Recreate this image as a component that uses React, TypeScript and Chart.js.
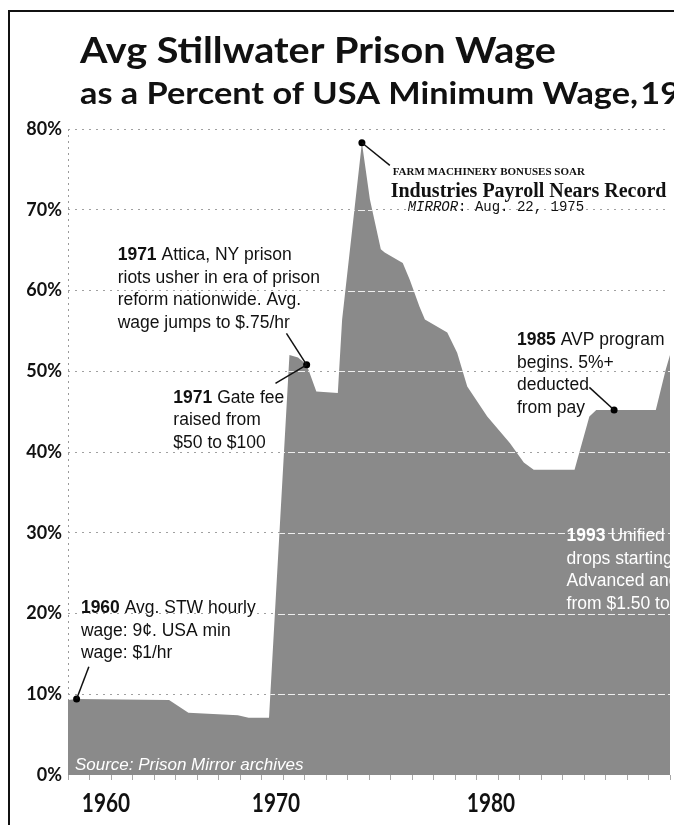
import React, { useEffect, useRef } from 'react';
import { Chart, registerables } from 'chart.js';

Chart.register(...registerables);

// ---- data ----
const areaYears = [
  1960, 1960.4, 1964.7, 1965.6, 1967.9, 1968.4, 1969.35, 1970.3, 1970.7, 1971.1,
  1971.55, 1972.55, 1972.75, 1973.67, 1974.04, 1974.55, 1974.73, 1975.57, 1975.9,
  1976.35, 1976.6, 1977.64, 1978.1, 1978.57, 1979.5, 1980.55, 1981.2, 1981.66,
  1983.56, 1984.25, 1984.57, 1985.4, 1987.34, 1987.8, 1988,
];
const areaValues = [
  9.3, 9.4, 9.3, 7.7, 7.4, 7.1, 7.1, 52.0, 51.7, 50.8,
  47.5, 47.3, 56.4, 78.3, 71.3, 65.1, 64.7, 63.4, 61.3,
  58.0, 56.4, 54.8, 52.3, 48.1, 44.4, 41.1, 38.7, 37.8,
  37.8, 44.4, 45.2, 45.2, 45.2, 50.2, 52.0,
];

const dotYears = [1960.4, 1971.1, 1973.67, 1985.4];
const dotValues = [9.4, 50.8, 78.3, 45.2];

const leaderDot = [0, 1, 1, 2, 3];
const leaderEndYears = [1960.97, 1970.16, 1969.65, 1974.97, 1984.25];
const leaderEndValues = [13.4, 54.7, 48.5, 75.5, 48.0];

const yTickValues = [0, 10, 20, 30, 40, 50, 60, 70, 80];
const xTickYears = [
  1960, 1961, 1962, 1963, 1964, 1965, 1966, 1967, 1968, 1969, 1970, 1971, 1972, 1973,
  1974, 1975, 1976, 1977, 1978, 1979, 1980, 1981, 1982, 1983, 1984, 1985, 1986, 1987, 1988,
];
const xLabelYears = [1960, 1970, 1980];

const titleText = 'Avg Stillwater Prison Wage';
const subtitleLead = 'as a Percent of USA Minimum Wage,';
const subtitleTail = '1960\u20131990';

const atticaNote = ['1971 Attica, NY prison', 'riots usher in era of prison', 'reform nationwide. Avg.', 'wage jumps to $.75/hr'];
const gateNote = ['1971 Gate fee', 'raised from', '$50 to $100'];
const avpNote = ['1985 AVP program', 'begins. 5%+', 'deducted', 'from pay'];
const startNote = ['1960 Avg. STW hourly', 'wage: 9\u00a2. USA min', 'wage: $1/hr'];
const unifiedNote = ['1993 Unified', 'drops starting', 'Advanced and', 'from $1.50 to'];
const noteYears = [1962.31, 1964.9, 1980.88, 1960.6, 1983.19];
const noteValues = [63.8, 46.1, 53.25, 20.06, 29.0];

const headlineKicker = 'FARM MACHINERY BONUSES SOAR';
const headlineMain = 'Industries Payroll Nears Record';
const headlinePaper = 'MIRROR';
const headlineDate = ': Aug. 22, 1975';
const headlineYears = [1975.1, 1975.01, 1975.8];
const headlineValues = [74.3, 71.58, 69.85];

const sourceText = 'Source: Prison Mirror archives';
const sourceYear = 1960.32;
const sourceValue = 0.62;

// ---- styles ----
const SANS = '"Liberation Sans", Arial, sans-serif';
const HEAD = 'Lato, "Open Sans", sans-serif';
const SERIF = '"Liberation Serif", "Times New Roman", serif';
const MONO = '"Liberation Mono", "Courier New", monospace';

function drawNote(ctx: CanvasRenderingContext2D, x: number, y: number, lines: string[], color: string) {
  const size = 17.5;
  const lh = 22.7;
  ctx.fillStyle = color;
  ctx.textAlign = 'left';
  ctx.textBaseline = 'alphabetic';
  lines.forEach((line, i) => {
    const cy = y + i * lh;
    const m = line.match(/^(\d{4})(.*)$/);
    if (m) {
      ctx.font = `bold ${size}px ${SANS}`;
      ctx.fillText(m[1], x, cy);
      const w = ctx.measureText(m[1]).width;
      ctx.font = `${size}px ${SANS}`;
      ctx.fillText(m[2], x + w, cy);
    } else {
      ctx.font = `${size}px ${SANS}`;
      ctx.fillText(line, x, cy);
    }
  });
}

function drawStretched(ctx: CanvasRenderingContext2D, text: string, x: number, y: number, width: number, tail?: string) {
  const w = ctx.measureText(text).width;
  const sx = width / w;
  ctx.save();
  ctx.translate(x, y);
  ctx.scale(sx, 1);
  ctx.fillText(text, 0, 0);
  if (tail) ctx.fillText(tail, w + 2, 0);
  ctx.restore();
}

const decor = {
  id: 'decor',
  beforeDraw(chart: any) {
    const ctx = chart.ctx as CanvasRenderingContext2D;
    ctx.save();
    ctx.fillStyle = '#fff';
    ctx.fillRect(0, 0, chart.width, chart.height);
    ctx.strokeStyle = '#111';
    ctx.lineWidth = 2;
    ctx.beginPath();
    ctx.moveTo(9, chart.height);
    ctx.lineTo(9, 11);
    ctx.lineTo(chart.width, 11);
    ctx.stroke();
    ctx.fillStyle = '#111';
    ctx.textAlign = 'left';
    ctx.textBaseline = 'alphabetic';
    ctx.font = `bold 36px ${HEAD}`;
    drawStretched(ctx, titleText, 80, 63, 476);
    ctx.font = `bold 30px ${HEAD}`;
    drawStretched(ctx, subtitleLead, 80, 104, 558, subtitleTail);
    ctx.restore();
  },
  afterDatasetsDraw(chart: any) {
    const ctx = chart.ctx as CanvasRenderingContext2D;
    const xs = chart.scales.x;
    const ys = chart.scales.y;
    const area = chart.chartArea;
    const px = (v: number) => xs.getPixelForValue(v);
    const py = (v: number) => ys.getPixelForValue(v);

    // white grid lines through the filled area
    const meta = chart.getDatasetMeta(0);
    const pts = meta.data;
    ctx.save();
    ctx.beginPath();
    ctx.moveTo(pts[0].x, py(0));
    pts.forEach((p: any) => ctx.lineTo(p.x, p.y));
    ctx.lineTo(pts[pts.length - 1].x, py(0));
    ctx.closePath();
    ctx.clip();
    ctx.strokeStyle = 'rgba(255,255,255,0.85)';
    ctx.lineWidth = 1;
    ctx.setLineDash([7, 3]);
    yTickValues.filter((v) => v > 0).forEach((v) => {
      const y = Math.round(py(v)) + 0.5;
      ctx.beginPath();
      ctx.moveTo(area.left, y);
      ctx.lineTo(area.right, y);
      ctx.stroke();
    });
    ctx.restore();

    // leader lines
    ctx.save();
    ctx.strokeStyle = '#111';
    ctx.lineWidth = 1.5;
    leaderDot.forEach((d, i) => {
      ctx.beginPath();
      ctx.moveTo(px(dotYears[d]), py(dotValues[d]));
      ctx.lineTo(px(leaderEndYears[i]), py(leaderEndValues[i]));
      ctx.stroke();
    });
    ctx.restore();

    // notes
    ctx.save();
    const notes = [atticaNote, gateNote, avpNote, startNote, unifiedNote];
    notes.forEach((lines, i) => {
      drawNote(ctx, px(noteYears[i]), py(noteValues[i]), lines, i === 4 ? '#fff' : '#111');
    });

    // newspaper headline
    ctx.fillStyle = '#111';
    ctx.textAlign = 'left';
    ctx.font = `bold 11px ${SERIF}`;
    ctx.fillText(headlineKicker, px(headlineYears[0]), py(headlineValues[0]));
    ctx.font = `bold 20px ${SERIF}`;
    ctx.fillText(headlineMain, px(headlineYears[1]), py(headlineValues[1]));
    ctx.font = `italic 14px ${MONO}`;
    const hx = px(headlineYears[2]);
    const hy = py(headlineValues[2]);
    ctx.fillText(headlinePaper, hx, hy);
    const pw = ctx.measureText(headlinePaper).width;
    ctx.font = `14px ${MONO}`;
    ctx.fillText(headlineDate, hx + pw, hy);

    // source
    ctx.fillStyle = '#fff';
    ctx.font = `italic 17px ${SANS}`;
    ctx.fillText(sourceText, px(sourceYear), py(sourceValue));

    // x labels
    ctx.fillStyle = '#111';
    ctx.textAlign = 'center';
    ctx.font = `bold 26px ${HEAD}`;
    xLabelYears.forEach((yr) => {
      let x = px(yr) - 7;
      if (x < area.left + 38) x = area.left + 38;
      ctx.save();
      ctx.translate(x, 812);
      ctx.scale(0.8, 1);
      ctx.fillText(String(yr), 0, 0);
      ctx.restore();
    });
    ctx.restore();
  },
};

export default function App() {
  const ref = useRef<HTMLCanvasElement | null>(null);
  useEffect(() => {
    if (!ref.current) return;
    const chart = new Chart(ref.current, {
      type: 'line',
      data: {
        datasets: [
          {
            data: areaYears.map((x, i) => ({ x, y: areaValues[i] })),
            fill: 'origin',
            backgroundColor: '#8a8a8a',
            borderWidth: 0,
            pointRadius: 0,
            tension: 0,
            order: 2,
          },
          {
            data: dotYears.map((x, i) => ({ x, y: dotValues[i] })),
            showLine: false,
            pointRadius: 3.5,
            pointBackgroundColor: '#000',
            pointBorderWidth: 0,
            order: 1,
          },
        ],
      },
      options: {
        animation: false,
        responsive: false,
        devicePixelRatio: 1,
        layout: { padding: { left: 8, top: 129, right: 0, bottom: 0 } },
        plugins: { legend: { display: false }, tooltip: { enabled: false } },
        scales: {
          x: {
            type: 'linear',
            min: 1960,
            max: 1988,
            afterBuildTicks: (s: any) => {
              s.ticks = xTickYears.map((v) => ({ value: v }));
            },
            afterFit: (s: any) => {
              s.height = 50;
            },
            ticks: { display: false, autoSkip: false },
            grid: {
              color: (c: any) => (c.tick && c.tick.value === 1960 ? '#9a9a9a' : 'rgba(0,0,0,0)'),
              tickColor: '#a8a8a8',
              tickLength: 5,
              drawTicks: true,
            },
            border: { display: false, dash: [2, 4] },
          },
          y: {
            min: 0,
            max: 80,
            afterBuildTicks: (s: any) => {
              s.ticks = yTickValues.map((v) => ({ value: v }));
            },
            afterFit: (s: any) => {
              s.width = 60;
            },
            ticks: {
              padding: 6,
              color: '#111',
              font: { family: 'Lato', size: 18, weight: 'bold' },
              callback: (v: any) => `${v}%`,
            },
            grid: {
              color: (c: any) => (c.tick && c.tick.value === 0 ? 'rgba(0,0,0,0)' : '#a0a0a0'),
              drawTicks: false,
            },
            border: { display: false, dash: [2, 5] },
          },
        },
      },
      plugins: [decor],
    });
    return () => chart.destroy();
  }, []);
  return (
    <div style={{ position: 'fixed', left: 0, top: 0, width: 674, height: 825, overflow: 'hidden', background: '#fff' }}>
      <canvas ref={ref} width={674} height={825} style={{ display: 'block' }} />
    </div>
  );
}
